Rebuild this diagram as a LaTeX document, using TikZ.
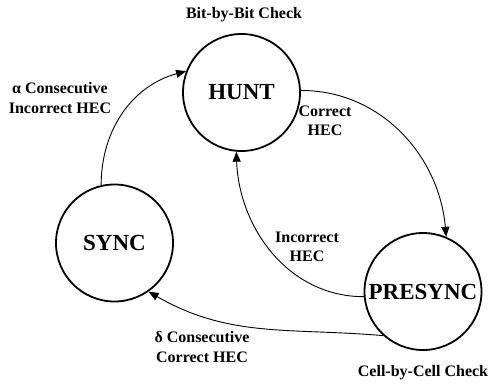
\documentclass[tikz,border=0pt]{standalone}
\usepackage{fontspec}
\setmainfont{Liberation Serif}
\usetikzlibrary{arrows.meta}
\begin{document}
\begin{tikzpicture}[x=1pt,y=-1pt,
  state/.style={circle,draw,line width=1.8pt,minimum size=117pt,inner sep=0pt,font=\fontsize{23}{26}\selectfont\bfseries},
  lbl/.style={align=center,font=\fontsize{16}{19.5}\selectfont\bfseries,inner sep=0pt},
  tr/.style={line width=0.9pt,-{Triangle[length=10pt,width=8pt]}}]
\useasboundingbox (0,0) rectangle (490,383);
\node[state] (hunt) at (241.5,92.5) {HUNT};
\node[state] (sync) at (114.5,243) {SYNC};
\node[state] (presync) at (423,291.5) {PRESYNC};
\node[lbl] (l1) at (244,15) {Bit-by-Bit Check};
\node[lbl] (l2) at (423,373) {Cell-by-Cell Check};
\node[lbl] (l3) at (60,98) {α Consecutive\\Incorrect HEC};
\node[lbl] (l4) at (325,121) {Correct\\HEC};
\node[lbl] (l5) at (307,247) {Incorrect\\HEC};
\node[lbl] (l6) at (202,347) {δ Consecutive\\Correct HEC};
\draw[tr] (sync.103) to[out=90,in=195] (hunt.159);
\draw[tr] (hunt.2) to[out=0,in=95] (presync.67);
\draw[tr] (presync.185) to[out=180,in=-88] (hunt.265);
\draw[tr] (presync.228) to[out=175,in=-30] (sync.305);
\end{tikzpicture}
\end{document}
